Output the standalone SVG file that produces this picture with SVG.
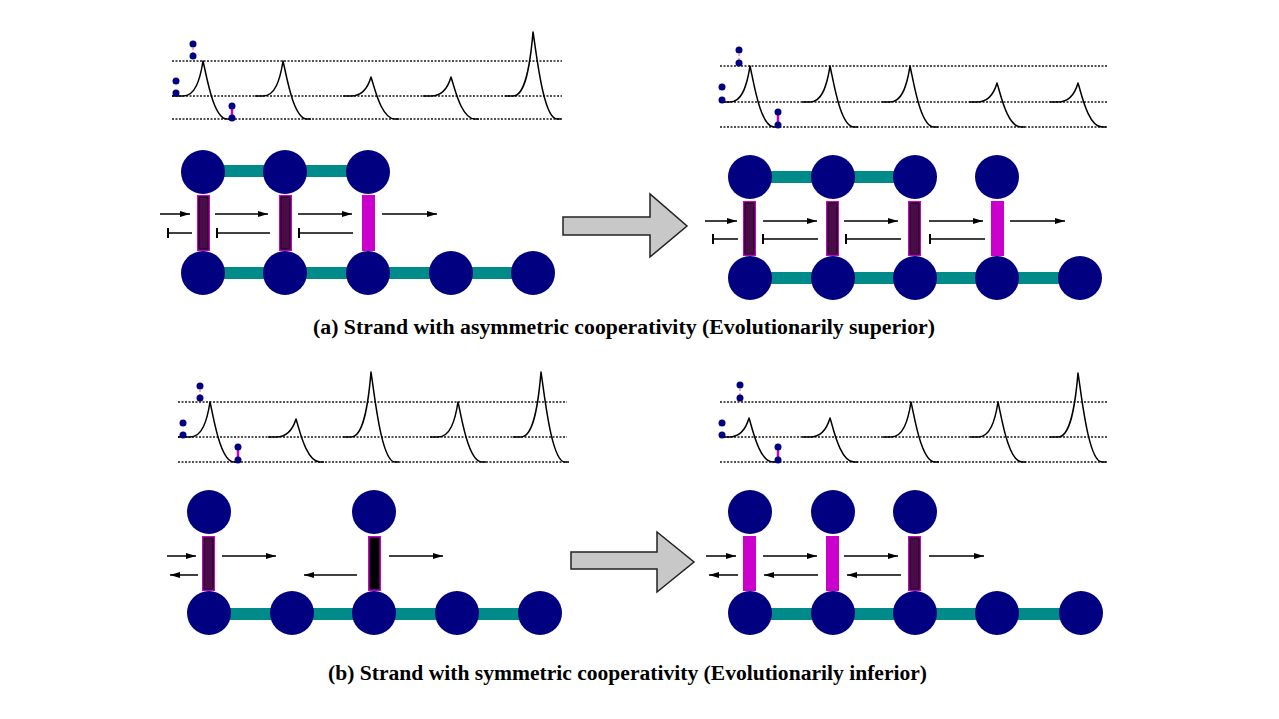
<svg xmlns="http://www.w3.org/2000/svg" width="1279" height="719" viewBox="0 0 1279 719">
<style>
.dl{stroke:#1a1a1a;stroke-width:1.5;stroke-dasharray:2 1.5;fill:none}
.pk{stroke:#000;stroke-width:1.5;fill:none;stroke-linejoin:round}
.dot{fill:#000080}
.n{fill:#000080}
.teal{stroke:#008b8b;stroke-width:12;fill:none}
.ar{stroke:#000;stroke-width:1.5;marker-end:url(#ah)}
.tb{stroke:#000;stroke-width:1.5;marker-end:url(#tbar)}
.big{fill:#c8c8c8;stroke:#222;stroke-width:1.5}
.rm{fill:#cc00cc}
.rd{fill:#4b0b4b;stroke:#000;stroke-width:1.2}
.rk{fill:#000;stroke:#000;stroke-width:1}
.pd{stroke:#ff80c8;stroke-width:1.5;stroke-dasharray:2 2}
.ps{stroke:#cc00cc;stroke-width:2.5}
.cap{font-family:"Liberation Serif",serif;font-size:20px;font-weight:bold;fill:#000}
</style>
<defs>
<marker id="ah" viewBox="0 0 10 6" refX="10" refY="3" markerWidth="10" markerHeight="6" markerUnits="userSpaceOnUse" orient="auto"><path d="M0,0 L10,3 L0,6 z" fill="#000"/></marker>
<marker id="tbar" viewBox="0 0 2 10" refX="1" refY="5" markerWidth="2" markerHeight="10" markerUnits="userSpaceOnUse" orient="auto"><rect x="0" y="0" width="2" height="10" fill="#000"/></marker>
</defs>
<rect width="1279" height="719" fill="#fff"/>

<!-- Panel a left plot -->
<g id="plot-a-left">
<line class="dl" x1="172" y1="61" x2="562" y2="61"/>
<line class="dl" x1="172" y1="96" x2="562" y2="96"/>
<line class="dl" x1="172" y1="119" x2="562" y2="119"/>
<path class="pk" d="M172,96 h11 c12,0 17,-15.75 20,-35 c3,11.6 10,58 24,58 h4"/>
<path class="pk" d="M255,96 h8 c12,0 17,-15.75 20,-35 c3,11.6 10,58 24,58 h4"/>
<path class="pk" d="M343,96 h8 c12,0 17,-8.55 20,-19 c3,8.4 10,42 24,42 h4"/>
<path class="pk" d="M423,96 h8 c12,0 17,-8.55 20,-19 c3,8.4 10,42 24,42 h4"/>
<path class="pk" d="M505,96 h8 c12,0 17,-28.8 20,-64 c3,17.4 10,87 24,87 h4"/>
<line class="pd" x1="193" y1="44" x2="193" y2="56"/>
<circle class="dot" cx="193" cy="44" r="3.5"/><circle class="dot" cx="193" cy="56" r="3.5"/>
<circle class="dot" cx="176" cy="81" r="3.5"/><circle class="dot" cx="176" cy="93" r="3.5"/>
<line class="ps" x1="232" y1="106" x2="232" y2="118"/>
<circle class="dot" cx="232" cy="106" r="3.5"/><circle class="dot" cx="232" cy="118" r="3.5"/>
</g>

<!-- Panel a right plot -->
<g id="plot-a-right">
<line class="dl" x1="720" y1="66" x2="1107" y2="66"/>
<line class="dl" x1="720" y1="102" x2="1107" y2="102"/>
<line class="dl" x1="720" y1="127" x2="1107" y2="127"/>
<path class="pk" d="M720,102 h10 c12,0 17,-16.2 20,-36 c3,12.2 10,61 24,61 h4"/>
<path class="pk" d="M802,102 h8 c12,0 17,-16.2 20,-36 c3,12.2 10,61 24,61 h4"/>
<path class="pk" d="M882,102 h8 c12,0 17,-16.2 20,-36 c3,12.2 10,61 24,61 h4"/>
<path class="pk" d="M969,102 h8 c12,0 17,-8.55 20,-19 c3,8.8 10,44 24,44 h4"/>
<path class="pk" d="M1050,102 h8 c12,0 17,-8.55 20,-19 c3,8.8 10,44 24,44 h4"/>
<line class="pd" x1="739" y1="50" x2="739" y2="63"/>
<circle class="dot" cx="739" cy="50" r="3.5"/><circle class="dot" cx="739" cy="63" r="3.5"/>
<circle class="dot" cx="722" cy="87" r="3.5"/><circle class="dot" cx="722" cy="100" r="3.5"/>
<line class="ps" x1="778" y1="112" x2="778" y2="125"/>
<circle class="dot" cx="778" cy="112" r="3.5"/><circle class="dot" cx="778" cy="125" r="3.5"/>
</g>

<!-- Panel b left plot -->
<g id="plot-b-left">
<line class="dl" x1="178" y1="402" x2="567" y2="402"/>
<line class="dl" x1="178" y1="437" x2="567" y2="437"/>
<line class="dl" x1="178" y1="462" x2="567" y2="462"/>
<path class="pk" d="M178,437 h12 c12,0 17,-15.75 20,-35 c3,12 10,60 24,60 h4"/>
<path class="pk" d="M268,437 h8 c12,0 17,-8.1 20,-18 c3,8.6 10,43 24,43 h4"/>
<path class="pk" d="M343,437 h8 c12,0 17,-29.25 20,-65 c3,18 10,90 24,90 h4"/>
<path class="pk" d="M430,437 h8 c12,0 17,-15.75 20,-35 c3,12 10,60 24,60 h4"/>
<path class="pk" d="M513,437 h8 c12,0 17,-29.25 20,-65 c3,18 10,90 24,90 h4"/>
<line class="pd" x1="200" y1="386" x2="200" y2="398"/>
<circle class="dot" cx="200" cy="386" r="3.5"/><circle class="dot" cx="200" cy="398" r="3.5"/>
<circle class="dot" cx="183" cy="423" r="3.5"/><circle class="dot" cx="183" cy="435" r="3.5"/>
<line class="ps" x1="238" y1="447" x2="238" y2="460"/>
<circle class="dot" cx="238" cy="447" r="3.5"/><circle class="dot" cx="238" cy="460" r="3.5"/>
</g>

<!-- Panel b right plot -->
<g id="plot-b-right">
<line class="dl" x1="720" y1="402" x2="1107" y2="402"/>
<line class="dl" x1="720" y1="437" x2="1107" y2="437"/>
<line class="dl" x1="720" y1="462" x2="1107" y2="462"/>
<path class="pk" d="M720,437 h9 c12,0 17,-8.55 20,-19 c3,8.8 10,44 24,44 h4"/>
<path class="pk" d="M802,437 h8 c12,0 17,-8.55 20,-19 c3,8.8 10,44 24,44 h4"/>
<path class="pk" d="M883,437 h8 c12,0 17,-15.75 20,-35 c3,12 10,60 24,60 h4"/>
<path class="pk" d="M970,437 h8 c12,0 17,-15.75 20,-35 c3,12 10,60 24,60 h4"/>
<path class="pk" d="M1050,437 h8 c12,0 17,-28.8 20,-64 c3,17.8 10,89 24,89 h4"/>
<line class="pd" x1="740" y1="385" x2="740" y2="398"/>
<circle class="dot" cx="740" cy="385" r="3.5"/><circle class="dot" cx="740" cy="398" r="3.5"/>
<circle class="dot" cx="722" cy="423" r="3.5"/><circle class="dot" cx="722" cy="435" r="3.5"/>
<line class="ps" x1="778" y1="447" x2="778" y2="460"/>
<circle class="dot" cx="778" cy="447" r="3.5"/><circle class="dot" cx="778" cy="460" r="3.5"/>
</g>

<!-- Connectors -->
<g id="connectors">
<!-- a left -->
<line class="teal" x1="203" y1="171" x2="368" y2="171"/>
<line class="teal" x1="203" y1="273" x2="533" y2="273"/>
<rect class="rm" x="197" y="195" width="13" height="56"/><rect class="rd" x="199" y="197" width="9" height="52"/>
<rect class="rm" x="279" y="195" width="13" height="56"/><rect class="rd" x="281" y="197" width="9" height="52"/>
<rect class="rm" x="362" y="195" width="13" height="56"/>
<line class="ar" x1="160" y1="214" x2="190" y2="214"/>
<line class="ar" x1="215" y1="214" x2="268" y2="214"/>
<line class="ar" x1="298" y1="214" x2="352" y2="214"/>
<line class="ar" x1="382" y1="214" x2="437" y2="214"/>
<line class="tb" x1="192" y1="233" x2="168" y2="233"/>
<line class="tb" x1="270" y1="233" x2="217" y2="233"/>
<line class="tb" x1="353" y1="233" x2="299" y2="233"/>
<!-- a right -->
<line class="teal" x1="750" y1="177" x2="915" y2="177"/>
<line class="teal" x1="750" y1="278" x2="1080" y2="278"/>
<rect class="rm" x="743" y="201" width="13" height="55"/><rect class="rd" x="745" y="203" width="9" height="51"/>
<rect class="rm" x="826" y="201" width="13" height="55"/><rect class="rd" x="828" y="203" width="9" height="51"/>
<rect class="rm" x="908" y="201" width="13" height="55"/><rect class="rd" x="910" y="203" width="9" height="51"/>
<rect class="rm" x="991" y="201" width="13" height="55"/>
<line class="ar" x1="705" y1="221" x2="737" y2="221"/>
<line class="ar" x1="763" y1="221" x2="817" y2="221"/>
<line class="ar" x1="844" y1="221" x2="898" y2="221"/>
<line class="ar" x1="929" y1="221" x2="983" y2="221"/>
<line class="ar" x1="1010" y1="221" x2="1065" y2="221"/>
<line class="tb" x1="738" y1="239" x2="713" y2="239"/>
<line class="tb" x1="818" y1="239" x2="763" y2="239"/>
<line class="tb" x1="901" y1="239" x2="846" y2="239"/>
<line class="tb" x1="985" y1="239" x2="930" y2="239"/>
<!-- b left -->
<line class="teal" x1="209" y1="614" x2="540" y2="614"/>
<rect class="rm" x="202" y="536" width="13" height="55"/><rect class="rd" x="204" y="538" width="9" height="51"/>
<rect class="rm" x="368" y="536" width="13" height="55"/><rect class="rk" x="370" y="538" width="9" height="51"/>
<line class="ar" x1="167" y1="556" x2="196" y2="556"/>
<line class="ar" x1="222" y1="556" x2="276" y2="556"/>
<line class="ar" x1="389" y1="556" x2="443" y2="556"/>
<line class="ar" x1="198" y1="575" x2="170" y2="575"/>
<line class="ar" x1="357" y1="575" x2="304" y2="575"/>
<!-- b right -->
<line class="teal" x1="750" y1="614" x2="1081" y2="614"/>
<rect class="rm" x="743" y="536" width="13" height="55"/>
<rect class="rm" x="826" y="536" width="13" height="55"/>
<rect class="rm" x="908" y="536" width="13" height="55"/><rect class="rd" x="910" y="538" width="9" height="51"/>
<line class="ar" x1="706" y1="556" x2="736" y2="556"/>
<line class="ar" x1="763" y1="556" x2="817" y2="556"/>
<line class="ar" x1="844" y1="556" x2="898" y2="556"/>
<line class="ar" x1="929" y1="556" x2="984" y2="556"/>
<line class="ar" x1="738" y1="575" x2="709" y2="575"/>
<line class="ar" x1="818" y1="575" x2="764" y2="575"/>
<line class="ar" x1="901" y1="575" x2="847" y2="575"/>
<!-- big arrows -->
<polygon class="big" points="563,217 650,217 650,194 687,226 650,257 650,235 563,235"/>
<polygon class="big" points="571,552 657,552 657,532 694,562 657,592 657,569 571,569"/>
</g>

<!-- Nodes panel a left -->
<g id="a-left-t1"><circle class="n" cx="203" cy="172" r="22"/></g>
<g id="a-left-t2"><circle class="n" cx="285" cy="172" r="22"/></g>
<g id="a-left-t3"><circle class="n" cx="368" cy="172" r="22"/></g>
<g id="a-left-b1"><circle class="n" cx="203" cy="273" r="22"/></g>
<g id="a-left-b2"><circle class="n" cx="285" cy="273" r="22"/></g>
<g id="a-left-b3"><circle class="n" cx="368" cy="273" r="22"/></g>
<g id="a-left-b4"><circle class="n" cx="451" cy="273" r="22"/></g>
<g id="a-left-b5"><circle class="n" cx="533" cy="273" r="22"/></g>
<!-- Nodes panel a right -->
<g id="a-right-t1"><circle class="n" cx="750" cy="177" r="22"/></g>
<g id="a-right-t2"><circle class="n" cx="833" cy="177" r="22"/></g>
<g id="a-right-t3"><circle class="n" cx="915" cy="177" r="22"/></g>
<g id="a-right-t4"><circle class="n" cx="997" cy="177" r="22"/></g>
<g id="a-right-b1"><circle class="n" cx="750" cy="278" r="22"/></g>
<g id="a-right-b2"><circle class="n" cx="833" cy="278" r="22"/></g>
<g id="a-right-b3"><circle class="n" cx="915" cy="278" r="22"/></g>
<g id="a-right-b4"><circle class="n" cx="997" cy="278" r="22"/></g>
<g id="a-right-b5"><circle class="n" cx="1080" cy="278" r="22"/></g>
<!-- Nodes panel b left -->
<g id="b-left-t1"><circle class="n" cx="209" cy="512" r="22"/></g>
<g id="b-left-t3"><circle class="n" cx="374" cy="512" r="22"/></g>
<g id="b-left-b1"><circle class="n" cx="209" cy="613" r="22"/></g>
<g id="b-left-b2"><circle class="n" cx="292" cy="613" r="22"/></g>
<g id="b-left-b3"><circle class="n" cx="374" cy="613" r="22"/></g>
<g id="b-left-b4"><circle class="n" cx="457" cy="613" r="22"/></g>
<g id="b-left-b5"><circle class="n" cx="540" cy="613" r="22"/></g>
<!-- Nodes panel b right -->
<g id="b-right-t1"><circle class="n" cx="750" cy="512" r="22"/></g>
<g id="b-right-t2"><circle class="n" cx="833" cy="512" r="22"/></g>
<g id="b-right-t3"><circle class="n" cx="915" cy="512" r="22"/></g>
<g id="b-right-b1"><circle class="n" cx="750" cy="613" r="22"/></g>
<g id="b-right-b2"><circle class="n" cx="833" cy="613" r="22"/></g>
<g id="b-right-b3"><circle class="n" cx="915" cy="613" r="22"/></g>
<g id="b-right-b4"><circle class="n" cx="997" cy="613" r="22"/></g>
<g id="b-right-b5"><circle class="n" cx="1081" cy="613" r="22"/></g>

<!-- Captions -->
<text class="cap" x="313" y="334" textLength="622" lengthAdjust="spacingAndGlyphs">(a) Strand with asymmetric cooperativity (Evolutionarily superior)</text>
<text class="cap" x="328" y="680" textLength="599" lengthAdjust="spacingAndGlyphs">(b) Strand with symmetric cooperativity (Evolutionarily inferior)</text>
</svg>
